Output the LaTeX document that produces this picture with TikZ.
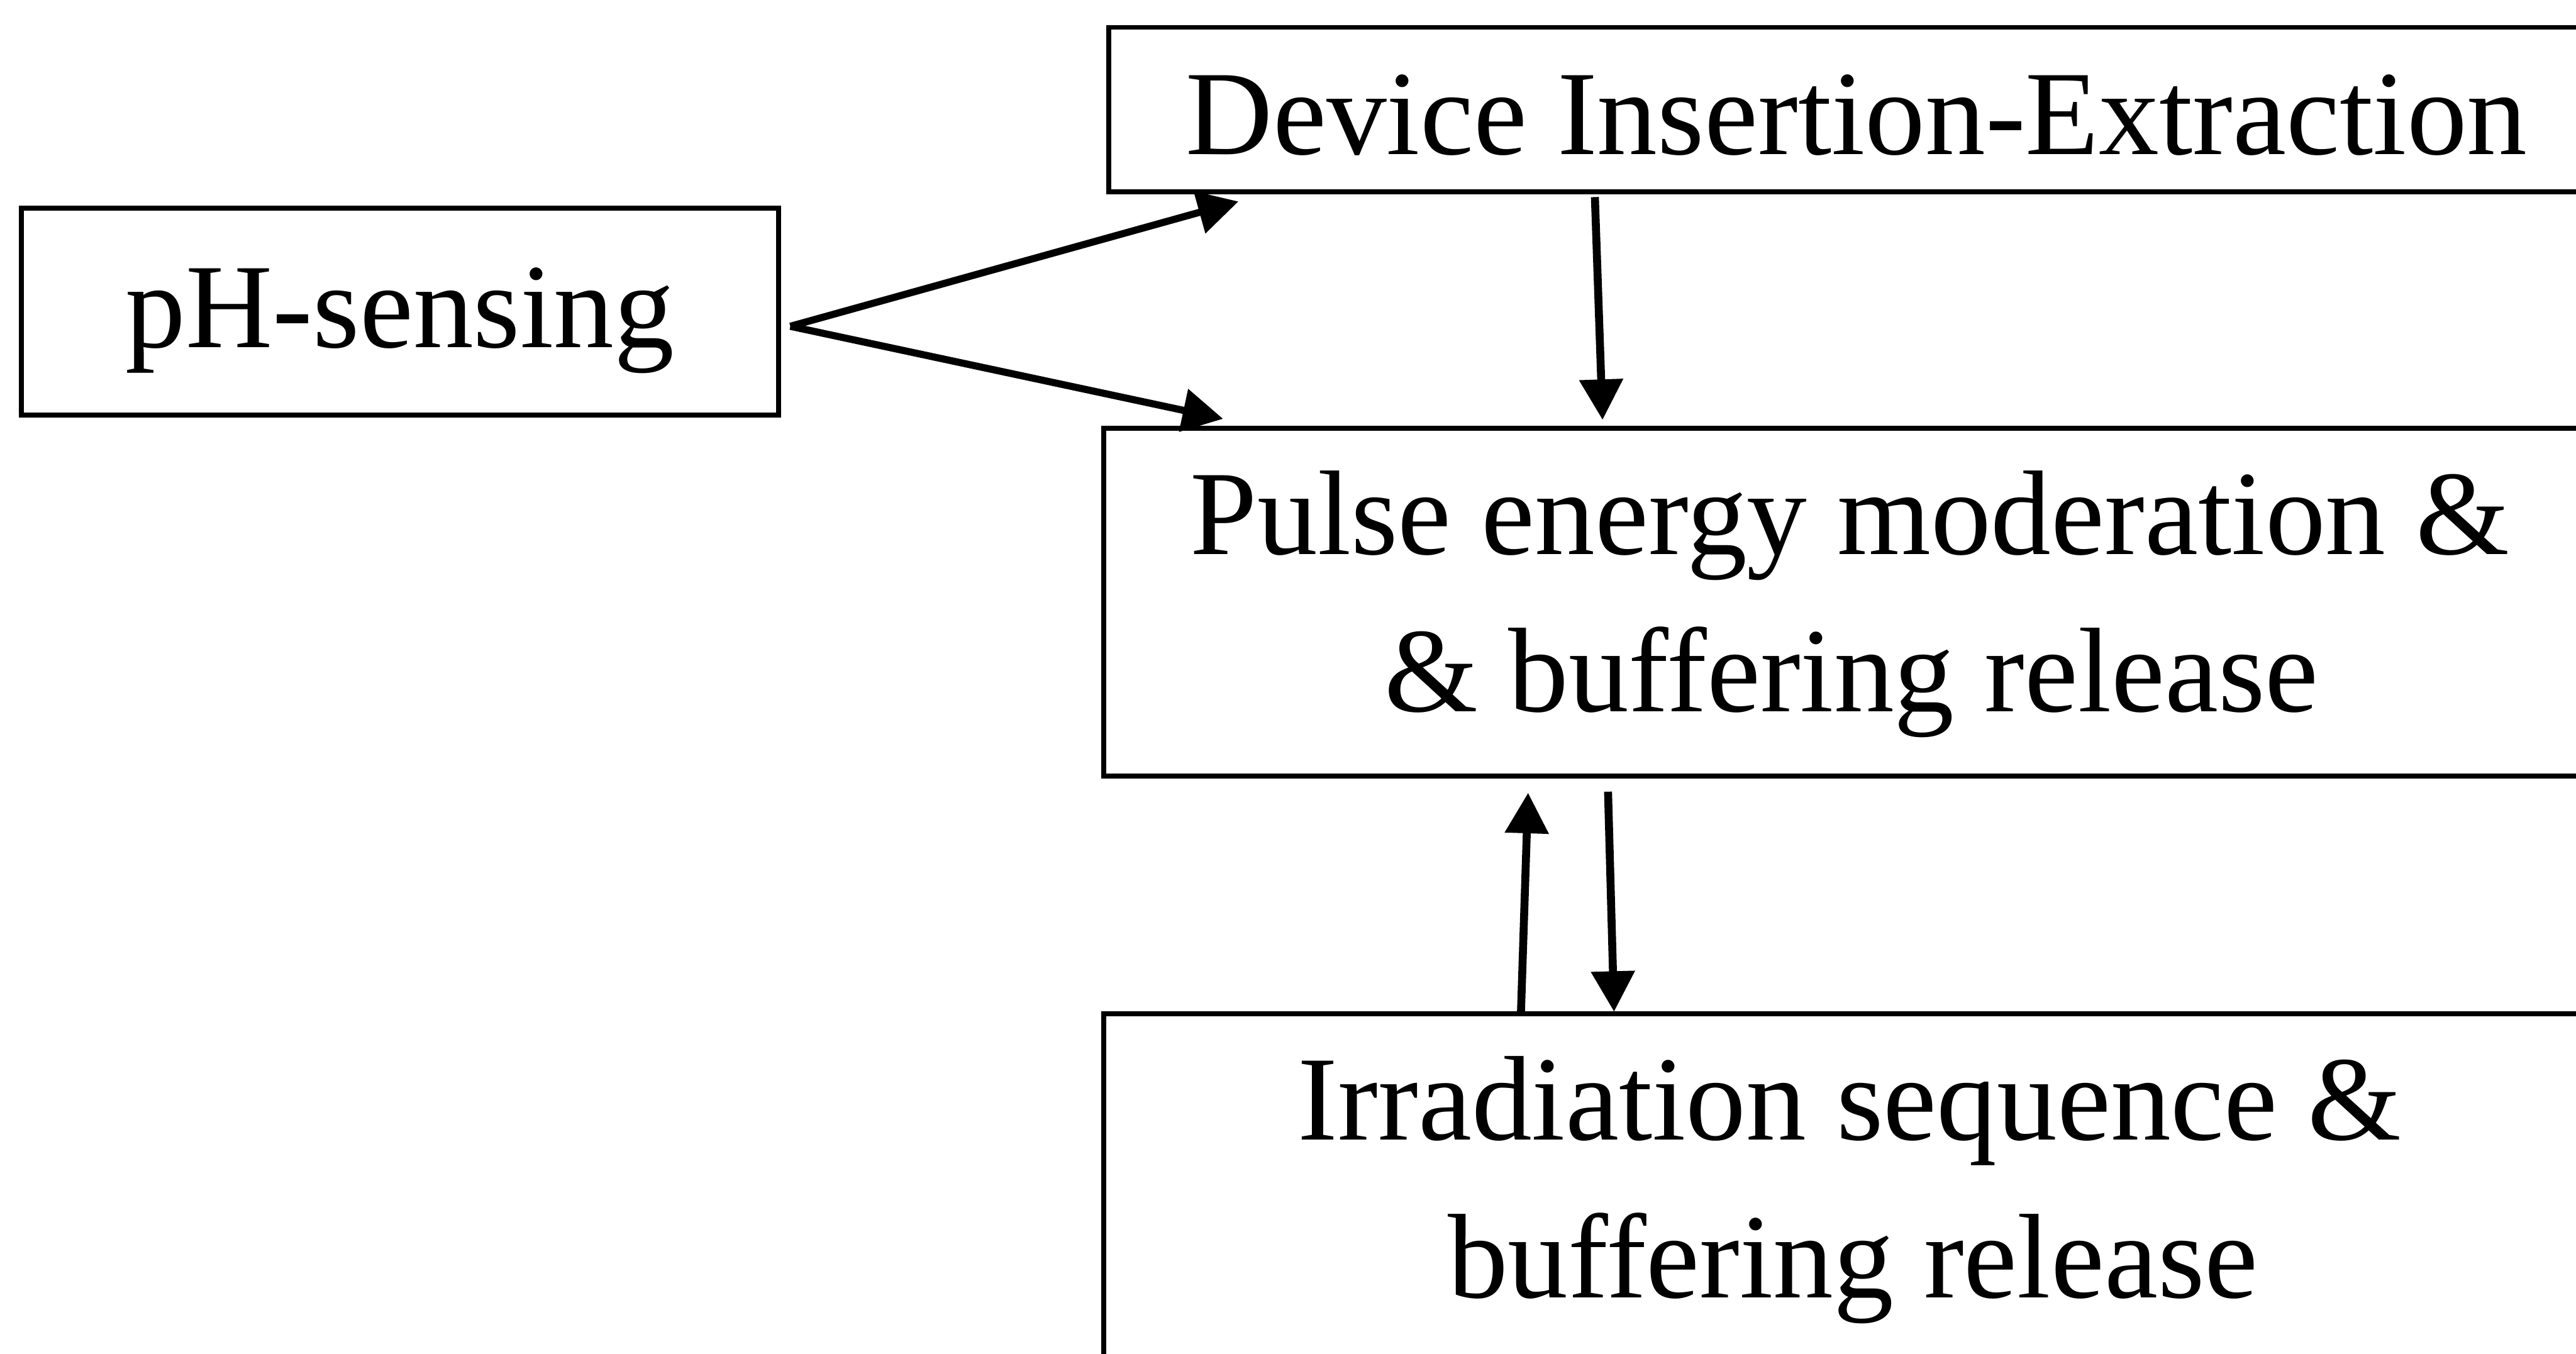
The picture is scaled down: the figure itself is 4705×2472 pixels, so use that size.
\documentclass[tikz,border=0pt]{standalone}
\usepackage{fontspec}
\setmainfont{Liberation Serif}
\usetikzlibrary{arrows.meta}
\begin{document}
\begin{tikzpicture}[x=0.1pt,y=-0.1pt,
  box/.style={draw=black,line width=0.9pt,rectangle,inner sep=0pt,outer sep=0pt,anchor=north west},
  lbl/.style={inner sep=0pt,outer sep=0pt,anchor=base,font=\fontsize{22pt}{26pt}\selectfont},
  arr/.style={line width=1.3pt,-{Triangle[length=7.4pt,width=7.7pt]}},
  varr/.style={line width=1.45pt,-{Triangle[length=7.4pt,width=7.7pt]}}]
\clip (0,0) rectangle (4705,2472);
\fill[white] (0,0) rectangle (4705,2472);
% boxes
\node[box,minimum width=1383*0.1pt,minimum height=378*0.1pt] (ph) at (39,380) {};
\node[box,minimum width=2730*0.1pt,minimum height=300*0.1pt] (dev) at (2025.5,50) {};
\node[box,minimum width=2728*0.1pt,minimum height=635*0.1pt] (pulse) at (2015.5,782) {};
\node[box,minimum width=2726*0.1pt,minimum height=700*0.1pt] (irr) at (2016,1852) {};
% texts
\node[lbl] (phT) at (730.5,635) {pH-sensing};
\node[lbl] (devT) at (3391,282) {Device Insertion-Extraction};
\node[lbl] (pulseT1) at (3379,1013) {Pulse energy moderation \&};
\node[lbl] (pulseT2) at (3382,1300) {\& buffering release};
\node[lbl] (irrT1) at (3378.5,2082) {Irradiation sequence \&};
\node[lbl] (irrT2) at (3384.5,2370) {buffering release};
% connectors
\draw[arr] ([shift={(21.5,27)}]ph.east) -- ([shift={(236.5,18)}]dev.south west);
\draw[arr] ([shift={(21.5,27)}]ph.east) -- ([shift={(218.5,-17)}]pulse.north west);
\draw[varr] ([shift={(887.5,10)}]dev.south west) -- ([shift={(911.5,-15)}]pulse.north west);
\draw[varr] ([shift={(762,-4)}]irr.north west) -- ([shift={(775.5,31)}]pulse.south west);
\draw[varr] ([shift={(921.5,29)}]pulse.south west) -- ([shift={(932,-4)}]irr.north west);
\end{tikzpicture}
\end{document}
